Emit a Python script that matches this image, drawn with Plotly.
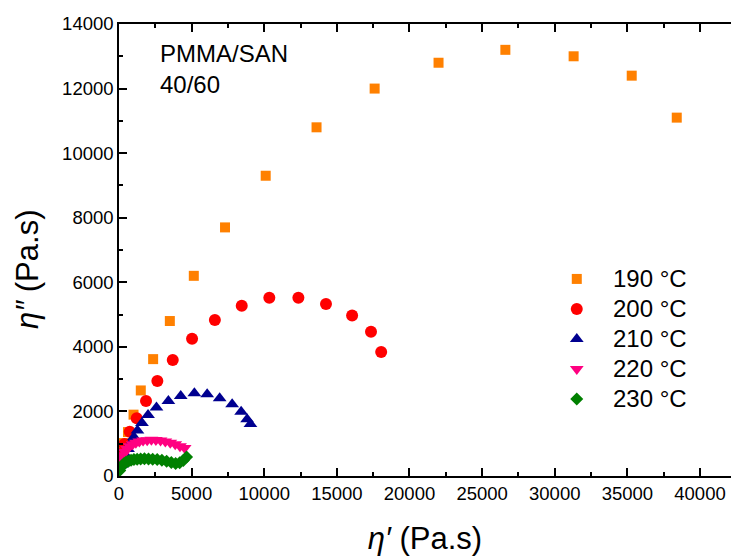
import plotly.graph_objects as go

# Cole-Cole plot of PMMA/SAN 40/60: loss viscosity vs storage viscosity
eta1_190 = [140, 340, 620, 1000, 1500, 2350, 3500, 5150, 7300, 10100, 13600, 17600, 22000, 26600, 31300, 35300, 38400]
eta2_190 = [650, 1020, 1360, 1900, 2650, 3620, 4800, 6200, 7700, 9300, 10800, 12000, 12800, 13200, 13000, 12400, 11100]

eta1_200 = [150, 380, 740, 1220, 1860, 2640, 3700, 5030, 6600, 8450, 10350, 12350, 14250, 16050, 17350, 18050]
eta2_200 = [700, 990, 1370, 1790, 2320, 2940, 3590, 4250, 4830, 5270, 5520, 5520, 5330, 4970, 4470, 3840]

eta1_210 = [150, 290, 450, 620, 825, 1030, 1270, 1580, 2000, 2580, 3400, 4250, 5190, 6070, 6930, 7790, 8410, 8820, 9050]
eta2_210 = [340, 500, 650, 840, 1020, 1210, 1410, 1640, 1890, 2120, 2320, 2480, 2560, 2530, 2410, 2220, 1990, 1760, 1610]

eta1_220 = [60, 150, 260, 400, 560, 740, 940, 1160, 1400, 1660, 1940, 2230, 2540, 2860, 3190, 3530, 3870, 4200, 4520]
eta2_220 = [380, 520, 640, 750, 840, 920, 980, 1030, 1070, 1100, 1110, 1120, 1115, 1100, 1070, 1030, 980, 920, 870]

eta1_230 = [50, 130, 230, 350, 490, 650, 830, 1030, 1250, 1490, 1750, 2030, 2320, 2630, 2950, 3280, 3600, 3900, 4180, 4430, 4650]
eta2_230 = [170, 260, 330, 390, 430, 460, 490, 510, 520, 530, 535, 530, 520, 510, 490, 460, 420, 390, 410, 480, 590]

series_names = ["190 °C", "200 °C", "210 °C", "220 °C", "230 °C"]
x_ticks = [0, 5000, 10000, 15000, 20000, 25000, 30000, 35000, 40000]
y_ticks = [0, 2000, 4000, 6000, 8000, 10000, 12000, 14000]

data = [
    (eta1_190, eta2_190), (eta1_200, eta2_200), (eta1_210, eta2_210),
    (eta1_220, eta2_220), (eta1_230, eta2_230),
]
styles = [
    ("square", "#FF8000", 10),
    ("circle", "#FF0000", 12),
    ("triangle-up", "#000090", 12),
    ("triangle-down", "#FF0080", 12),
    ("diamond", "#008000", 10),
]

FONT = "Liberation Sans, Arial, sans-serif"
fig = go.Figure()
for name, (xs, ys), (sym, col, sz) in zip(series_names, data, styles):
    fig.add_trace(go.Scatter(
        x=xs, y=ys, mode="markers", name=name, showlegend=False,
        marker=dict(symbol=sym, color=col, size=sz, line=dict(width=0)),
    ))

# Hand-placed key: symbols on a unit overlay axis, labels as annotations
key_x = 0.748
key_y0, key_step = 0.436, 30 / 452
annotations = []
for i, (name, (sym, col, sz)) in enumerate(zip(series_names, styles)):
    ky = key_y0 - i * key_step
    fig.add_trace(go.Scatter(
        x=[key_x], y=[ky], xaxis="x2", yaxis="y2", mode="markers",
        showlegend=False, hoverinfo="skip",
        marker=dict(symbol=sym, color=col, size=sz, line=dict(width=0)),
    ))
    annotations.append(dict(
        x=key_x + 34 / 612, y=ky, xref="paper", yref="paper", showarrow=False,
        text=name, xanchor="left", yanchor="middle",
        font=dict(size=24, color="black", family=FONT),
    ))

annotations.append(dict(
    x=(158 - 119) / 612, y=(476 - 38) / 452, xref="paper", yref="paper",
    showarrow=False, text="PMMA/SAN<br>40/60", align="left",
    xanchor="left", yanchor="top", font=dict(size=24, color="black", family=FONT),
))

# Vertical axis title
annotations.append(dict(
    x=(27 - 119) / 612, y=(476 - 270) / 452, xref="paper", yref="paper",
    showarrow=False, text="<i>η″</i> (Pa.s)", textangle=-90,
    xanchor="center", yanchor="middle", font=dict(size=31, color="black", family=FONT),
))

axis_font = dict(family=FONT, size=18.5, color="black")

fig.update_layout(
    width=731, height=557,
    margin=dict(l=119, r=0, t=24, b=81),
    paper_bgcolor="white", plot_bgcolor="white",
    font=dict(family=FONT, color="black"),
    showlegend=False,
    annotations=annotations,
    xaxis2=dict(overlaying="x", range=[0, 1], visible=False, fixedrange=True),
    yaxis2=dict(overlaying="y", range=[0, 1], visible=False, fixedrange=True),
)

fig.layout.xaxis.update(
    range=[0, 42135], tickmode="array",
    tickvals=x_ticks, ticktext=[str(v) for v in x_ticks],
    ticks="inside", ticklen=8, tickwidth=1.5, tickcolor="black",
    minor=dict(dtick=2500, ticks="inside", ticklen=4, tickwidth=1.5, tickcolor="black"),
    showline=True, linecolor="black", linewidth=1.5, mirror="ticks",
    showgrid=False, zeroline=False, tickfont=axis_font,
    title=dict(text="<i>η′</i> (Pa.s)", font=dict(size=31), standoff=24),
)
fig.layout.yaxis.update(
    range=[0, 14000], tickmode="array",
    tickvals=y_ticks, ticktext=[str(v) for v in y_ticks],
    ticks="inside", ticklen=8, tickwidth=1.5, tickcolor="black",
    minor=dict(dtick=1000, ticks="inside", ticklen=4, tickwidth=1.5, tickcolor="black"),
    showline=True, linecolor="black", linewidth=1.5,
    showgrid=False, zeroline=False, tickfont=axis_font,
)

fig.write_html("out.html")
